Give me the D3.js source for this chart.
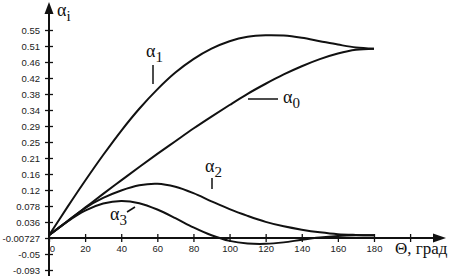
<!DOCTYPE html>
<html>
<head>
<meta charset="utf-8">
<script src="https://cdn.jsdelivr.net/npm/d3@7"></script>
<style>
  body { margin: 0; background: #fff; }
  svg { display: block; }
  .tick text { font-family: "Liberation Sans Narrow", "Liberation Sans", Arial, sans-serif; font-size: 9.5px; fill: #222; }
  .lbl { font-family: "Liberation Serif", "Times New Roman", serif; fill: #111; }
</style>
</head>
<body>
<svg width="455" height="276"></svg>
<script>
const width = 455;
const height = 276;

// angle, degrees
const theta = [0, 10, 20, 30, 40, 50, 60, 70, 80, 90, 100, 110, 120, 130, 140, 150, 160, 170, 180];

const alpha0 = [0, 0.037, 0.074, 0.111, 0.147, 0.183, 0.218, 0.252, 0.286, 0.318, 0.349, 0.379, 0.406, 0.431, 0.453, 0.472, 0.487, 0.497, 0.5];
const alpha1 = [0, 0.074, 0.146, 0.215, 0.280, 0.339, 0.391, 0.436, 0.472, 0.500, 0.520, 0.532, 0.536, 0.535, 0.529, 0.520, 0.511, 0.503, 0.5];
const alpha2 = [0, 0.037, 0.073, 0.100, 0.120, 0.134, 0.138, 0.130, 0.113, 0.091, 0.070, 0.052, 0.036, 0.024, 0.015, 0.008, 0.003, 0.001, 0];
const alpha3 = [0, 0.036, 0.066, 0.085, 0.092, 0.086, 0.069, 0.046, 0.021, 0.000, -0.015, -0.022, -0.023, -0.019, -0.012, -0.006, -0.002, 0, 0];

const xTicks = [0, 20, 40, 60, 80, 100, 120, 140, 160, 180, 200];
const xTickLabels = ["0", "20", "40", "60", "80", "100", "120", "140", "160", "180", ""];
const yTickLabels = ["-0.093", "-0.05", "-0.00727", "0.036", "0.078", "0.12", "0.16", "0.21", "0.25",
  "0.29", "0.34", "0.38", "0.42", "0.46", "0.51", "0.55"];

const yMin = -0.093, yMax = 0.55;
const yTickValues = yTickLabels.map((d, i) => yMin + i * (yMax - yMin) / (yTickLabels.length - 1));

const x = d3.scaleLinear().domain([0, 200]).range([49, 410.1]);
const y = d3.scaleLinear().domain([yMin, yMax]).range([270, 30]);

const svg = d3.select("svg");
const x0 = x(0);
const yAxisPos = y(-0.00727);

// y axis
const yAxis = svg.append("g")
  .attr("transform", "translate(" + x0 + ",0)")
  .call(d3.axisLeft(y).tickValues(yTickValues).tickFormat((d, i) => yTickLabels[i]).tickSize(4).tickPadding(5));
yAxis.select(".domain").remove();
yAxis.selectAll(".tick line").attr("x1", 4).attr("stroke", "#111").attr("stroke-width", 1.3);

// x axis
const xAxis = svg.append("g")
  .attr("transform", "translate(0," + yAxisPos + ")")
  .call(d3.axisBottom(x).tickValues(xTicks).tickFormat((d, i) => xTickLabels[i]).tickSize(4).tickPadding(3));
xAxis.select(".domain").remove();
xAxis.selectAll(".tick line").attr("y1", -4).attr("stroke", "#111").attr("stroke-width", 1.3);
xAxis.selectAll(".tick text").filter(d => d === 0).attr("dx", 3);

svg.append("line")
  .attr("x1", x0).attr("x2", x0).attr("y1", height).attr("y2", 12)
  .attr("stroke", "#111").attr("stroke-width", 2);
svg.append("path")
  .attr("d", "M" + (x0 - 4.5) + ",14L" + x0 + ",2L" + (x0 + 4.5) + ",14Z")
  .attr("fill", "#111");

svg.append("line")
  .attr("x1", x0).attr("x2", 436).attr("y1", yAxisPos).attr("y2", yAxisPos)
  .attr("stroke", "#111").attr("stroke-width", 2);
svg.append("path")
  .attr("d", "M433," + (yAxisPos - 4.5) + "L446," + yAxisPos + "L433," + (yAxisPos + 4.5) + "Z")
  .attr("fill", "#111");

// curves
const line = d3.line()
  .x((d, i) => x(theta[i]))
  .y(d => y(d))
  .curve(d3.curveCatmullRom.alpha(0.5));

[alpha0, alpha1, alpha2, alpha3].forEach(s => {
  svg.append("path")
    .attr("d", line(s))
    .attr("fill", "none")
    .attr("stroke", "#111")
    .attr("stroke-width", 2);
});

// labels
function alphaLabel(px, py, sub) {
  const t = svg.append("text").attr("class", "lbl").attr("x", px).attr("y", py).attr("font-size", 18);
  t.append("tspan").text("α");
  t.append("tspan").attr("dy", 5).attr("font-size", 15).text(sub);
}
alphaLabel(57, 16, "i");
alphaLabel(146, 57, "1");
alphaLabel(283, 103, "0");
alphaLabel(205, 172, "2");
alphaLabel(110, 220, "3");

const leaders = [
  [153, 65, 153, 84],
  [248, 99, 278, 99],
  [212, 178, 212, 189],
  [127, 212, 135, 207]
];
leaders.forEach(l => {
  svg.append("line")
    .attr("x1", l[0]).attr("y1", l[1]).attr("x2", l[2]).attr("y2", l[3])
    .attr("stroke", "#111").attr("stroke-width", 1.5);
});

svg.append("text")
  .attr("class", "lbl")
  .attr("x", 395).attr("y", 254)
  .attr("font-size", 17)
  .text("Θ, град");
</script>
</body>
</html>
